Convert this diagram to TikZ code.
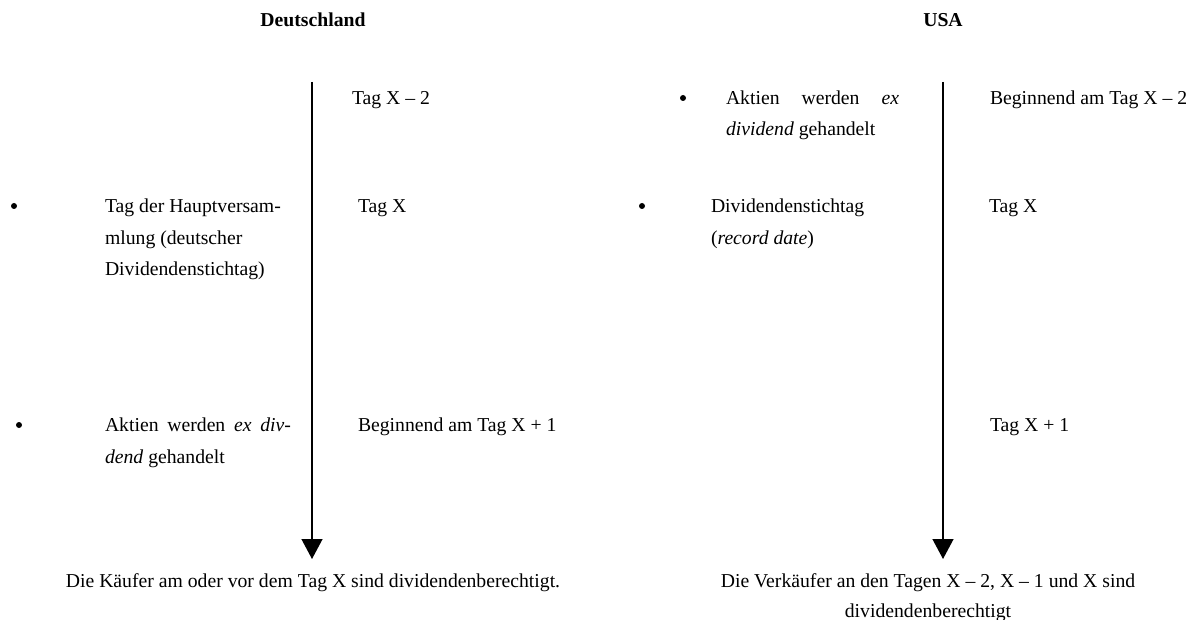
\documentclass[tikz,border=0pt]{standalone}
\usepackage{fontspec}
\setmainfont{Liberation Serif}
\usetikzlibrary{arrows.meta}
\begin{document}
\begin{tikzpicture}[x=1pt,y=-1pt,
  txt/.style={inner sep=0pt,outer sep=0pt,anchor=base west,font=\fontsize{19.7}{31.5}\selectfont},
  ctr/.style={txt,anchor=base},
  bulletdot/.style={circle,fill=black,inner sep=0pt,minimum size=6pt},
  timeline/.style={line width=1.3pt,-{Triangle[width=21pt,length=20pt]}}]
\useasboundingbox (0,0) rectangle (1197,620);

% column headings
\node[ctr] (hdDE) at (313,27) {\bfseries Deutschland};
\node[ctr] (hdUS) at (943,27) {\bfseries USA};

% time axes
\coordinate (deTop) at (312,82);
\coordinate (deEnd) at (312,559);
\coordinate (usTop) at (943,82);
\coordinate (usEnd) at (943,559);
\draw[timeline] (deTop) -- (deEnd);
\draw[timeline] (usTop) -- (usEnd);

% Germany: events (left) and days (right of the axis)
\node[txt] (deT2) at (352,105) {Tag X – 2};
\node[bulletdot] (deB1) at (14,206) {};
\node[txt] (deH1) at (105,213) {Tag der Hauptversam-};
\node[txt] (deH2) at (105,244.5) {mlung (deutscher};
\node[txt] (deH3) at (105,276) {Dividendenstichtag)};
\node[txt] (deTX) at (358,213) {Tag X};
\node[bulletdot] (deB2) at (19,425) {};
\node[txt] (deA1) at (105,431.5) {\hbox to 186pt{Aktien\hfill werden\hfill\textit{ex}\hfill\textit{div-}}};
\node[txt] (deA2) at (105,463) {\textit{dend} gehandelt};
\node[txt] (deT1) at (358,431.5) {Beginnend am Tag X + 1};
\node[ctr] (deFoot) at (313,587) {Die Käufer am oder vor dem Tag X sind dividendenberechtigt.};

% USA: events (left) and days (right of the axis)
\node[bulletdot] (usB1) at (683,98) {};
\node[txt] (usA1) at (726,104.5) {\hbox to 173pt{Aktien\hfill werden\hfill\textit{ex}}};
\node[txt] (usA2) at (726,136) {\textit{dividend} gehandelt};
\node[txt] (usT2) at (990,104.5) {Beginnend am Tag X – 2};
\node[bulletdot] (usB2) at (642,206) {};
\node[txt] (usD1) at (711,213) {Dividendenstichtag};
\node[txt] (usD2) at (711,244.5) {(\textit{record date})};
\node[txt] (usTX) at (989,213) {Tag X};
\node[txt] (usT1) at (990,431.5) {Tag X + 1};
\node[ctr] (usFoot1) at (928,587) {Die Verkäufer an den Tagen X – 2, X – 1 und X sind};
\node[ctr] (usFoot2) at (928,617) {dividendenberechtigt};
\end{tikzpicture}
\end{document}
